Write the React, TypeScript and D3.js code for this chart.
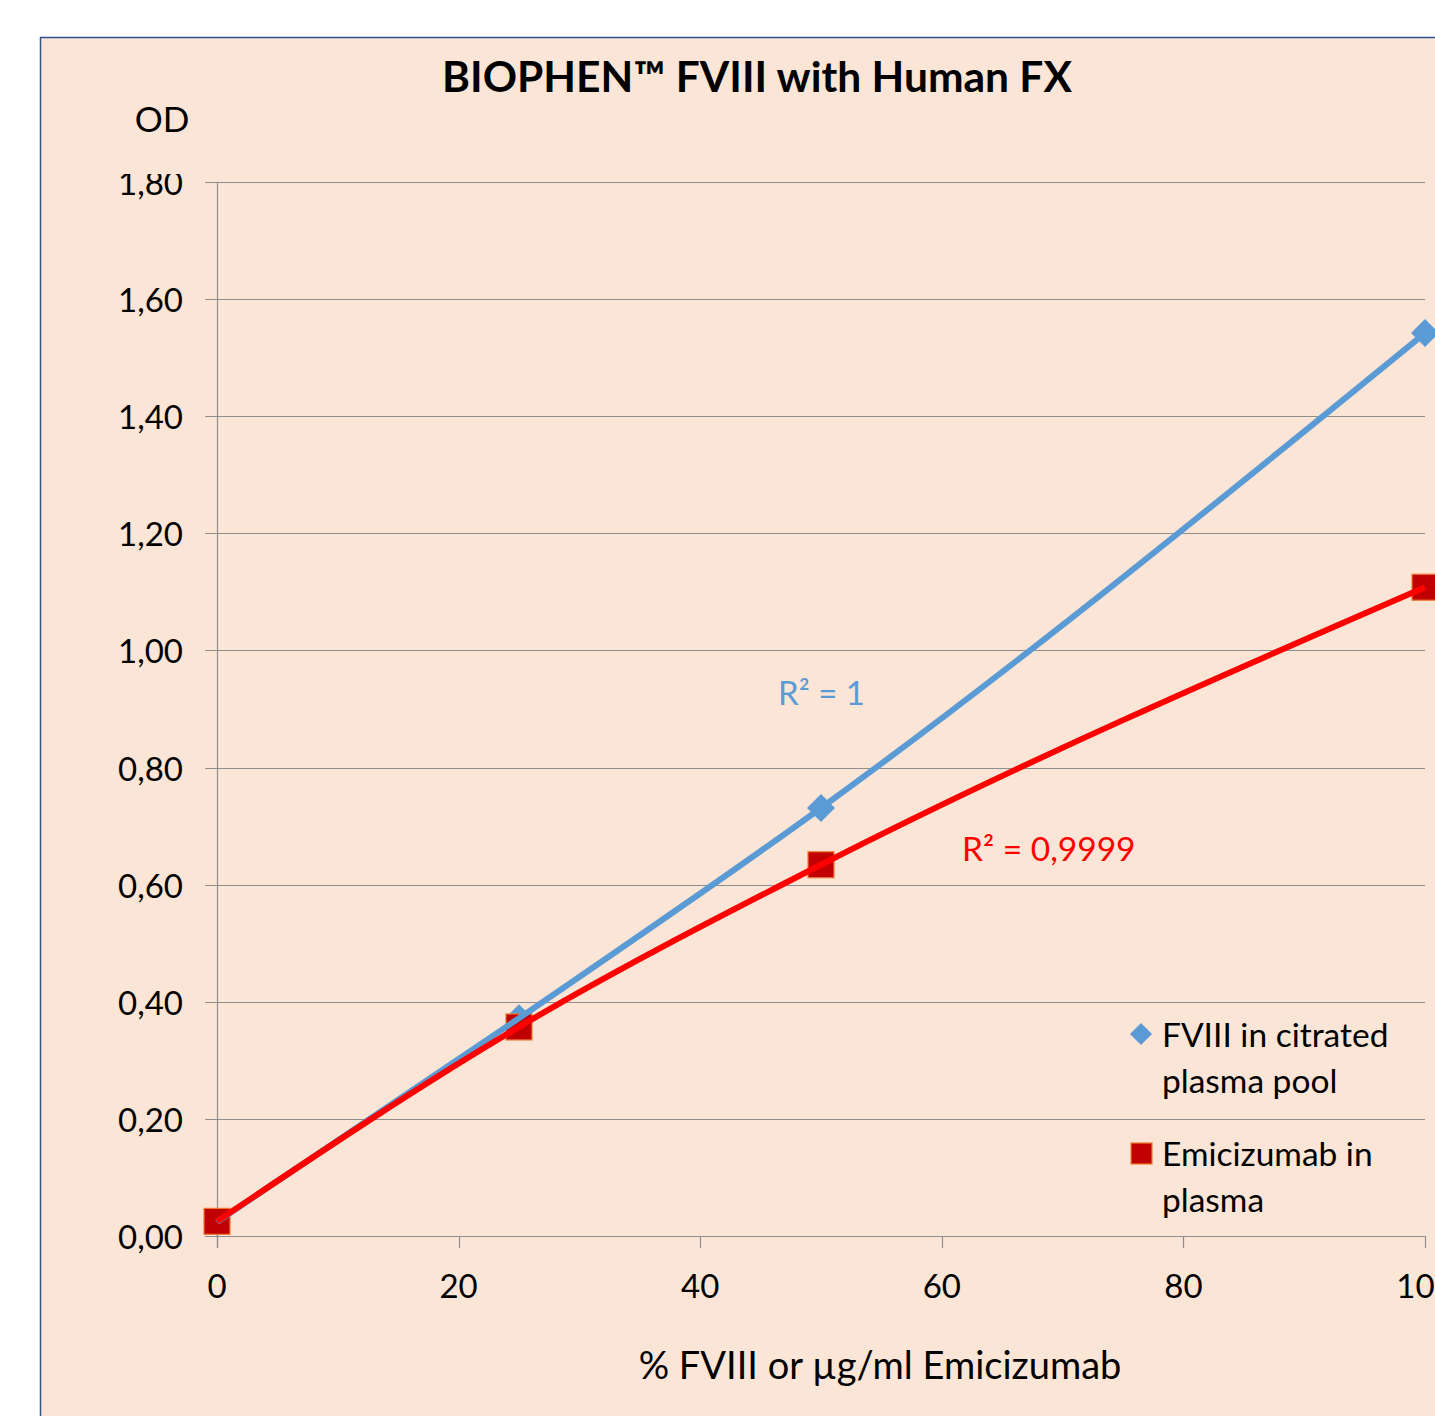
import React from "react";
import * as d3 from "d3";

const xValues = [0, 25, 50, 100];
const fviiiOD = [0.024, 0.372, 0.731, 1.542];
const emicizumabOD = [0.025, 0.357, 0.634, 1.108];
const yTicks = [0, 0.2, 0.4, 0.6, 0.8, 1.0, 1.2, 1.4, 1.6, 1.8];
const xTicks = [0, 20, 40, 60, 80, 100];
const seriesNames = ["FVIII in citrated", "plasma pool", "Emicizumab in", "plasma"];
const r2Labels = ["R² = 1", "R² = 0,9999"];

const FONT = "Lato, 'Open Sans', sans-serif";
const BLUE = "#5B9BD5";
const RED = "#FF0000";
const DARKRED = "#C00000";
const ORANGE = "#ED7D31";
const GRID = "#8E8E8E";

export default function App() {
  const x = d3.scaleLinear().domain([0, 100]).range([217, 1425]);
  const y = d3.scaleLinear().domain([0, 1.8]).range([1236, 182]);
  const blueData = xValues.map((v, i) => [v, fviiiOD[i]] as [number, number]);
  const redData = xValues.map((v, i) => [v, emicizumabOD[i]] as [number, number]);
  const line = d3
    .line<[number, number]>()
    .x((d) => x(d[0]))
    .y((d) => y(d[1]))
    .curve(d3.curveMonotoneX);
  const fmt = (v: number) => d3.format(".2f")(v).replace(".", ",");
  const diamond = (cx: number, cy: number, r: number) =>
    `M${cx},${cy - r}L${cx + r},${cy}L${cx},${cy + r}L${cx - r},${cy}Z`;

  return (
    <div style={{ position: "absolute", left: 0, top: 0 }}>
      <svg width={1435} height={1416} style={{ display: "block" }}>
        <defs>
          <clipPath id="ylab">
            <rect x={0} y={174} width={300} height={1200} />
          </clipPath>
        </defs>
        <rect x={0} y={0} width={1435} height={1416} fill="#ffffff" />
        <rect x={40.5} y={37.5} width={1500} height={1500} fill="#FBE5D6" stroke="#2F4F8F" strokeWidth={1.5} />
        <text x={757} y={92} textAnchor="middle" fontFamily={FONT} fontWeight="bold" fontSize={42.5} fill="#000">
          BIOPHEN™ FVIII with Human FX
        </text>
        <text x={162} y={118} textAnchor="middle" dominantBaseline="central" fontFamily={FONT} fontSize={35} fill="#000">
          OD
        </text>
        {yTicks.map((t) => (
          <line key={"g" + t} x1={205} x2={1425} y1={Math.round(y(t)) + 0.5} y2={Math.round(y(t)) + 0.5} stroke={GRID} strokeWidth={1.2} />
        ))}
        <line x1={217.5} x2={217.5} y1={182} y2={1248} stroke={GRID} strokeWidth={1.2} />
        {xTicks.map((t) => (
          <line key={"xt" + t} x1={Math.round(x(t)) + 0.5} x2={Math.round(x(t)) + 0.5} y1={1236} y2={1248} stroke={GRID} strokeWidth={1.2} />
        ))}
        <g clipPath="url(#ylab)">
          {yTicks.map((t) => (
            <text key={"yl" + t} x={183} y={y(t)} textAnchor="end" dominantBaseline="central" fontFamily={FONT} fontSize={33} fill="#000">
              {fmt(t)}
            </text>
          ))}
        </g>
        {xTicks.map((t) => (
          <text key={"xl" + t} x={x(t)} y={1285} textAnchor="middle" dominantBaseline="central" fontFamily={FONT} fontSize={33} fill="#000">
            {t}
          </text>
        ))}
        <text x={880} y={1364} textAnchor="middle" dominantBaseline="central" fontFamily={FONT} fontSize={38} fill="#000">
          % FVIII or µg/ml Emicizumab
        </text>
        {blueData.map((d, i) => (
          <path key={"bm" + i} d={diamond(x(d[0]), y(d[1]), 14)} fill={BLUE} />
        ))}
        {redData.map((d, i) => (
          <rect key={"rm" + i} x={x(d[0]) - 13} y={y(d[1]) - 13} width={26} height={26} fill={DARKRED} stroke={ORANGE} strokeWidth={1.2} />
        ))}
        <path d={line(blueData) || ""} fill="none" stroke={BLUE} strokeWidth={6} />
        <path d={line(redData) || ""} fill="none" stroke={RED} strokeWidth={6} />
        <text x={778} y={692} dominantBaseline="central" fontFamily={FONT} fontSize={33} fill={BLUE}>
          {r2Labels[0]}
        </text>
        <text x={962} y={848} dominantBaseline="central" fontFamily={FONT} fontSize={33.5} fill={RED}>
          {r2Labels[1]}
        </text>
        <path d={diamond(1141, 1034, 11)} fill={BLUE} />
        <text x={1162} y={1034} dominantBaseline="central" fontFamily={FONT} fontSize={33.5} fill="#000">
          {seriesNames[0]}
        </text>
        <text x={1162} y={1080} dominantBaseline="central" fontFamily={FONT} fontSize={33.5} fill="#000">
          {seriesNames[1]}
        </text>
        <rect x={1131} y={1143} width={21} height={21} fill={DARKRED} stroke={ORANGE} strokeWidth={1.2} />
        <text x={1162} y={1153} dominantBaseline="central" fontFamily={FONT} fontSize={33.5} fill="#000">
          {seriesNames[2]}
        </text>
        <text x={1162} y={1199} dominantBaseline="central" fontFamily={FONT} fontSize={33.5} fill="#000">
          {seriesNames[3]}
        </text>
      </svg>
    </div>
  );
}
